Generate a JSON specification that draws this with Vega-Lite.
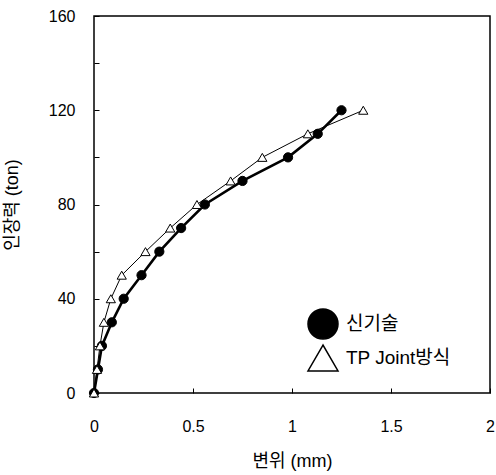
{
  "$schema": "https://vega.github.io/schema/vega-lite/v6.json",
  "width": 396,
  "height": 377,
  "autosize": "none",
  "padding": {"left": 94, "top": 16, "right": 6, "bottom": 82},
  "config": {
    "font": "Liberation Sans, Noto Sans CJK KR",
    "view": {"stroke": "black", "strokeWidth": 1.5},
    "axis": {
      "grid": false, "domain": false,
      "labelColor": "black", "titleColor": "black", "labelFontSize": 16,
      "titleFontSize": 18, "titleFontWeight": "normal",
      "labelFlush": false, "labelOverlap": false, "labelBound": false
    }
  },
  "data": {
    "values": [
      {"series": "신기술", "x": 0, "y": 0},
      {"series": "신기술", "x": 0.02, "y": 10},
      {"series": "신기술", "x": 0.04, "y": 20},
      {"series": "신기술", "x": 0.09, "y": 30},
      {"series": "신기술", "x": 0.15, "y": 40},
      {"series": "신기술", "x": 0.24, "y": 50},
      {"series": "신기술", "x": 0.33, "y": 60},
      {"series": "신기술", "x": 0.44, "y": 70},
      {"series": "신기술", "x": 0.56, "y": 80},
      {"series": "신기술", "x": 0.75, "y": 90},
      {"series": "신기술", "x": 0.98, "y": 100},
      {"series": "신기술", "x": 1.13, "y": 110},
      {"series": "신기술", "x": 1.25, "y": 120},
      {"series": "TP Joint방식", "x": 0, "y": 0},
      {"series": "TP Joint방식", "x": 0.015, "y": 10},
      {"series": "TP Joint방식", "x": 0.03, "y": 20},
      {"series": "TP Joint방식", "x": 0.05, "y": 30},
      {"series": "TP Joint방식", "x": 0.085, "y": 40},
      {"series": "TP Joint방식", "x": 0.14, "y": 50},
      {"series": "TP Joint방식", "x": 0.26, "y": 60},
      {"series": "TP Joint방식", "x": 0.385, "y": 70},
      {"series": "TP Joint방식", "x": 0.52, "y": 80},
      {"series": "TP Joint방식", "x": 0.69, "y": 90},
      {"series": "TP Joint방식", "x": 0.85, "y": 100},
      {"series": "TP Joint방식", "x": 1.08, "y": 110},
      {"series": "TP Joint방식", "x": 1.36, "y": 120}
    ]
  },
  "encoding": {
    "x": {"field": "x", "type": "quantitative", "scale": {"domain": [0, 2], "nice": false},
      "axis": {"orient": "bottom", "tickCount": 4, "tickSize": 5, "offset": -5, "tickColor": "black", "format": "~g",
        "labelPadding": 25, "title": "변위 (mm)", "titlePadding": 18}},
    "y": {"field": "y", "type": "quantitative", "scale": {"domain": [0, 160], "nice": false},
      "axis": {"orient": "left", "tickCount": 8, "tickSize": 5, "offset": -5, "tickColor": "black",
        "labelOpacity": {"condition": {"test": "datum.value % 40 !== 0", "value": 0}, "value": 1},
        "labelPadding": 19, "title": "인장력 (ton)", "titlePadding": 27}}
  },
  "layer": [
    {
      "transform": [{"filter": "datum.series === '신기술'"}],
      "mark": {"type": "line", "color": "black", "strokeWidth": 2.6},
      "encoding": {"order": {"field": "y"}}
    },
    {
      "transform": [{"filter": "datum.series === 'TP Joint방식'"}],
      "mark": {"type": "line", "color": "black", "strokeWidth": 1},
      "encoding": {"order": {"field": "y"}}
    },
    {
      "mark": {"type": "point", "filled": true, "stroke": "black", "strokeWidth": 1, "opacity": 1, "size": 85},
      "encoding": {
        "shape": {"field": "series", "scale": {"domain": ["신기술", "TP Joint방식"], "range": ["circle", "triangle-up"]},
          "legend": {"orient": "none", "legendX": 213, "legendY": 292, "title": null, "labelFontSize": 19, "labelColor": "black", "symbolSize": 900, "rowPadding": 0, "labelOffset": 7,
            "encode": {"symbols": {
              "shape": {"value": {"expr": "datum.value === '신기술' ? 'M-1,0H1M-0.33,0A0.33,0.33,0,1,0,0.33,0A0.33,0.33,0,1,0,-0.33,0Z' : 'M-1,0H-0.17M0.17,0H1M0,-0.3L0.34,0.28L-0.34,0.28Z'"}},
              "strokeWidth": {"value": {"expr": "datum.value === '신기술' ? 2.5 : 1"}},
              "fill": {"value": {"expr": "datum.value === '신기술' ? 'black' : 'white'"}},
              "stroke": {"value": "black"},
              "opacity": {"value": 1}
            }}}},
        "fill": {"field": "series", "scale": {"domain": ["신기술", "TP Joint방식"], "range": ["black", "white"]}, "legend": null}
      }
    }
  ]
}
